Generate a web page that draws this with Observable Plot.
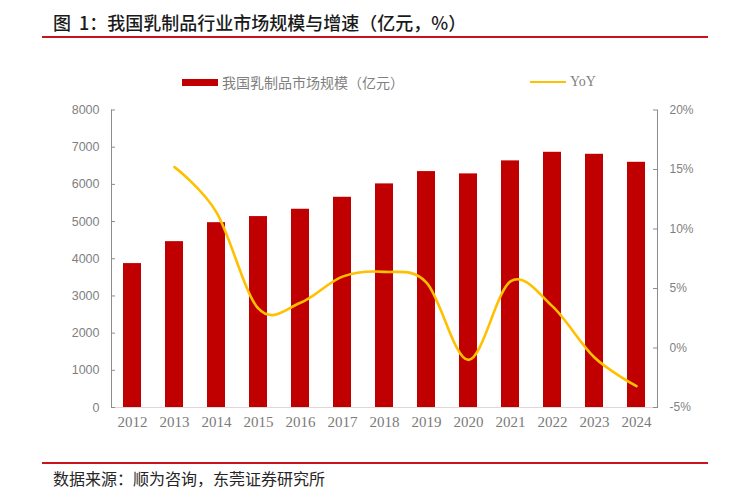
<!DOCTYPE html>
<html>
<head>
<meta charset="utf-8">
<script src="https://cdn.jsdelivr.net/npm/d3@7"></script>
<script src="https://cdn.jsdelivr.net/npm/@observablehq/plot@0.6"></script>
<style>
  body { margin: 0; background: #fff; }
  #wrap { position: relative; width: 750px; height: 499px; overflow: hidden; font-family: "Noto Sans CJK SC", "Noto Sans", sans-serif; }
  #title { position: absolute; left: 53px; top: 9px; font-size: 18px; line-height: 26px; color: #1a1a1a; font-weight: 500; white-space: pre; }
  .redrule { position: absolute; left: 42px; width: 666px; height: 2px; background: #c8141e; }
  #legend { position: absolute; top: 72px; left: 0; width: 750px; height: 20px; }
  .sw { position: absolute; }
  .lt { position: absolute; font-size: 14px; line-height: 20px; color: #7f7f7f; white-space: nowrap; top: 0; }
  #chart { position: absolute; left: 0; top: 95px; }
  #source { position: absolute; left: 53px; top: 466px; font-size: 16px; line-height: 24px; color: #262626; white-space: nowrap; }
</style>
</head>
<body>
<div id="wrap">
  <div id="title">图  1：我国乳制品行业市场规模与增速（亿元，%）</div>
  <div class="redrule" style="top:36px"></div>
  <div id="legend"></div>
  <div id="chart"></div>
  <div class="redrule" style="top:462px"></div>
  <div id="source">数据来源：顺为咨询，东莞证券研究所</div>
</div>
<script>
// ---- data ----
const years = ["2012","2013","2014","2015","2016","2017","2018","2019","2020","2021","2022","2023","2024"];
const marketSize = [3870, 4460, 4970, 5134, 5331, 5653, 6013, 6344, 6282, 6632, 6863, 6809, 6594];
const yoyYears = ["2013","2014","2015","2016","2017","2018","2019","2020","2021","2022","2023","2024"];
const yoy = [15.2, 11.4, 3.3, 3.8, 6.0, 6.4, 5.5, -1.0, 5.6, 3.5, -0.8, -3.2];
const leftTicks = [0, 1000, 2000, 3000, 4000, 5000, 6000, 7000, 8000];
const rightTicks = [-5, 0, 5, 10, 15, 20];
const seriesNames = ["我国乳制品市场规模（亿元）", "YoY"];

// ---- colours ----
const barColor = "#C00000";
const lineColor = "#FFC000";
const axisColor = "#8c8c8c";

// ---- scales ----
const leftMax = 8000, pctMin = -5, pctMax = 20;
const pctToLeft = p => (p - pctMin) / (pctMax - pctMin) * leftMax;
const leftToPct = v => Math.round(v / leftMax * (pctMax - pctMin) + pctMin);

const bars = years.map((y, i) => ({year: y, value: marketSize[i]}));
const growth = yoyYears.map((y, i) => ({year: y, yoy: yoy[i]}));

const W = 750, H = 350, mL = 111, mR = 93, mT = 14.5, mB = 38;
const frameW = W - mL - mR;

const chart = Plot.plot({
  width: W, height: H,
  marginLeft: mL, marginRight: mR, marginTop: mT, marginBottom: mB,
  style: {fontFamily: "'Liberation Sans', Arial, sans-serif", fontSize: "12px", color: "#7f7f7f", background: "transparent"},
  x: {type: "band", domain: years, paddingInner: 0.58, paddingOuter: 0.29},
  y: {domain: [0, leftMax]},
  marks: [
    Plot.barY(bars, {x: "year", y: "value", fill: barColor}),
    Plot.ruleY([0], {stroke: "#d9d9d9", strokeWidth: 1.2}),
    Plot.frame({anchor: "left", stroke: axisColor}),
    Plot.frame({anchor: "right", stroke: axisColor}),
    Plot.ruleY(leftTicks, {insetRight: frameW - 4, stroke: axisColor}),
    Plot.ruleY(rightTicks.map(pctToLeft), {insetLeft: frameW - 4, stroke: axisColor}),
    Plot.line(growth, {x: "year", y: d => pctToLeft(d.yoy), stroke: lineColor, strokeWidth: 2.6, curve: "cardinal"}),
    Plot.axisY(leftTicks, {anchor: "left", tickSize: 0, tickPadding: 12, label: null, tickFormat: d => String(d), fontSize: 12.5, fill: "#7f7f7f"}),
    Plot.axisY(rightTicks.map(pctToLeft), {anchor: "right", tickSize: 0, tickPadding: 12, label: null, tickFormat: d => leftToPct(d) + "%", fontSize: 12, fill: "#7f7f7f"}),
    Plot.axisX({anchor: "bottom", tickSize: 0, tickPadding: 9, label: null, fontFamily: "'Liberation Serif', serif", fontSize: 15, fill: "#7a7a7a"})
  ]
});
document.getElementById("chart").appendChild(chart);

// ---- legend ----
const legend = document.getElementById("legend");
function addSwatch(left, w, h, color) {
  const s = document.createElement("div");
  s.className = "sw";
  s.style.left = left + "px"; s.style.width = w + "px"; s.style.height = h + "px";
  s.style.top = (10 - h / 2) + "px"; s.style.background = color;
  legend.appendChild(s);
}
function addText(left, txt, font) {
  const t = document.createElement("div");
  t.className = "lt"; t.style.left = left + "px"; t.textContent = txt;
  if (font) t.style.fontFamily = font;
  legend.appendChild(t);
}
addSwatch(182, 36, 7, barColor);
addText(222, seriesNames[0]);
addSwatch(530, 36, 2.6, lineColor);
addText(570, seriesNames[1], "'Liberation Serif', serif");
</script>
</body>
</html>
